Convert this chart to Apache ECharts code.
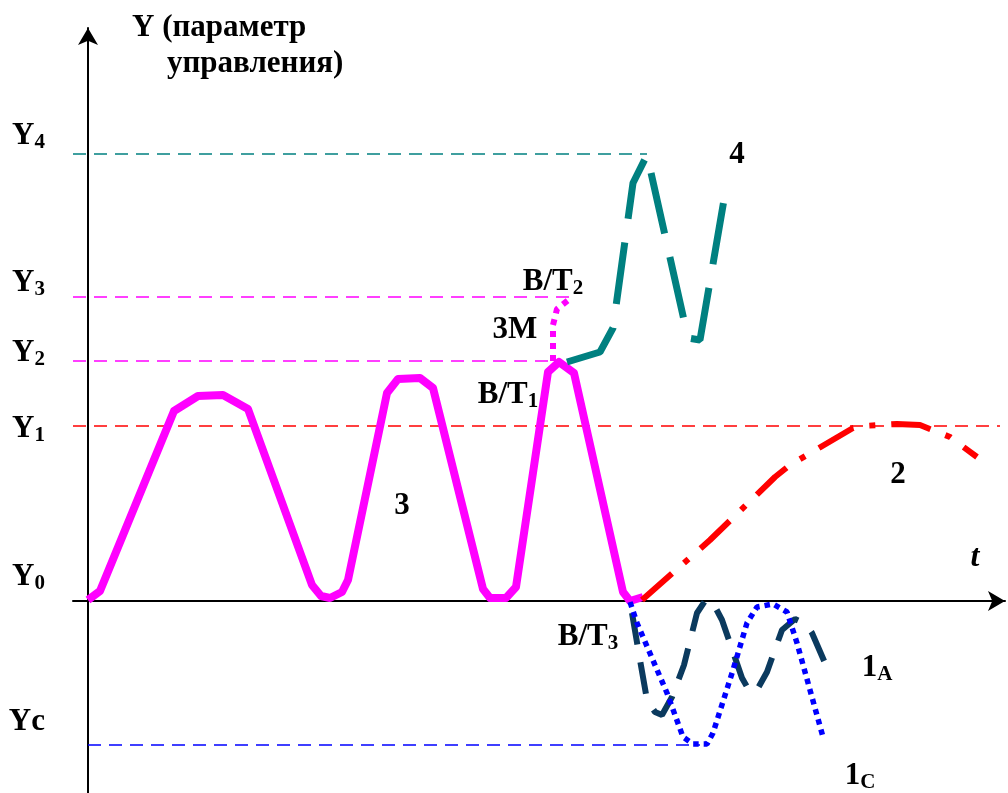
<!DOCTYPE html>
<html>
<head>
<meta charset="utf-8">
<script src="https://cdn.jsdelivr.net/npm/echarts@6/dist/echarts.min.js"></script>
<style>
  html, body { margin: 0; padding: 0; background: #fff; }
  #main { width: 1008px; height: 793px; }
</style>
</head>
<body>
<div id="main"></div>
<script>
// кривые (t, Y)
var curve3 = [[0,1],[12,10],[86,190],[110,205],[135,206],[160,192],[224,16],[233,5],[242,3],[254,9],[260,21],
  [299,208],[310,222],[332,223],[345,213],[395,12],[402,3],[418,3],[428,14],[460,229],[471,239],[486,228],
  [535,9],[542,0],[555,4]];
var curve3M = [[465,240],[465,276],[469,292],[484,304]];
var curve4 = [[479,239],[512,249],[525,273],[545,418],[559,446],[600,263],[612,261],[638,413]];
var curve2 = [[554,1],[622,61],[687,124],[702,136],[765,173],[775,175],[809,177],[832,176],[862,164],[889,144]];
var curve1A = [[544,-12],[552,-59],[559,-99],[567,-111],[574,-114],[584,-96],[596,-64],[609,-12],[617,0],[624,0],
  [634,-19],[654,-77],[662,-91],[669,-89],[679,-71],[694,-29],[707,-18],[718,-23],[724,-32],[740,-69]];
var curve1C = [[542,-1],[549,-22],[579,-92],[595,-136],[605,-143],[619,-143],[625,-132],[645,-69],[659,-22],
  [669,-6],[685,-3],[699,-11],[709,-42],[735,-136]];

// уровни Y
var levelNames = ['Yc', 'Y1', 'Y2', 'Y3', 'Y4'];
var levelValues = [-144, 175, 240, 304, 447];
var levelFrom = [0, -15, -15, -15, -15];
var levelTo = [612, 912, 467, 484, 559];

// подписи оси Y
var axisLabelTexts = ['Yc', 'Y0', 'Y1', 'Y2', 'Y3', 'Y4'];
var axisLabelAt = [-121, 24, 172, 248, 318, 465];

// подписи кривых
var noteTexts = ['4', 'B/T|2', '3M', 'B/T|1', '3', '2', 'B/T|3', '1|A', '1|C'];
var notePoints = [[649,446],[465,319],[427,271],[420,206],[314,95],[810,126],[500,-36],[789,-67],[772,-175]];

function DiagramChart() {
    var myChart = echarts.init(document.getElementById('main'));
    var serif = 'Liberation Serif';
    var rich = {
        m: { fontFamily: serif, fontWeight: 'bold', fontSize: 31, color: '#000', lineHeight: 34 },
        s: { fontFamily: serif, fontWeight: 'bold', fontSize: 21, color: '#000', verticalAlign: 'bottom', lineHeight: 12 }
    };
    function richText(t) {
        var p = t.split('|');
        return '{m|' + p[0] + '}' + (p[1] ? '{s|' + p[1] + '}' : '');
    }

    var levelColors = ['#0000ff', '#ff0000', '#ff00ff', '#ff00ff', '#008080'];
    var series = [];
    levelValues.forEach(function (v, i) {
        series.push({
            name: levelNames[i], type: 'line', symbol: 'none', silent: true,
            data: [[levelFrom[i], v], [levelTo[i], v]],
            lineStyle: { color: levelColors[i], width: 1.5, type: [13, 8] }
        });
    });
    series.push(
        { name: '3', type: 'line', symbol: 'none', data: curve3,
          lineStyle: { color: '#ff00ff', width: 8, join: 'round' } },
        { name: '3M', type: 'line', symbol: 'none', data: curve3M,
          lineStyle: { color: '#ff00ff', width: 6, type: [6, 6] } },
        { name: '4', type: 'line', symbol: 'none', data: curve4,
          lineStyle: { color: '#008080', width: 7, type: [62, 24] } },
        { name: '2', type: 'line', symbol: 'none', data: curve2,
          lineStyle: { color: '#ff0000', width: 6, type: [40, 16, 6, 16] } },
        { name: '1A', type: 'line', symbol: 'none', data: curve1A,
          lineStyle: { color: '#0b3a5e', width: 6, type: [32, 18] } },
        { name: '1C', type: 'line', symbol: 'none', data: curve1C,
          lineStyle: { color: '#0000ff', width: 5.5, type: [5.5, 5] } },
        { name: 'notes', type: 'scatter', symbolSize: 1, clip: false, silent: true,
          itemStyle: { color: 'rgba(0,0,0,0)', opacity: 1 },
          data: notePoints.map(function (p, i) { return { value: p, name: noteTexts[i] }; }),
          label: { show: true, position: 'inside', color: '#000', opacity: 1,
                   formatter: function (d) { return richText(d.name); }, rich: rich } },
        { name: 't', type: 'scatter', symbolSize: 1, clip: false, silent: true,
          itemStyle: { color: 'rgba(0,0,0,0)', opacity: 1 },
          data: [{ value: [887, 43], name: 't' }],
          label: { show: true, position: 'inside', formatter: 't', opacity: 1,
                   fontFamily: serif, fontWeight: 'bold', fontStyle: 'italic', fontSize: 32, color: '#000' } }
    );

    var option = {
        animation: false,
        backgroundColor: '#fff',
        title: [
            { text: 'Y (параметр', left: 127, top: 7,
              textStyle: { fontFamily: serif, fontWeight: 'bold', fontSize: 31, color: '#000' } },
            { text: 'управления)', left: 162, top: 43,
              textStyle: { fontFamily: serif, fontWeight: 'bold', fontSize: 31, color: '#000' } }
        ],
        grid: { left: 73, right: 3, top: 28, bottom: 0, containLabel: false, outerBoundsMode: 'none' },
        xAxis: {
            type: 'value', min: -15, max: 917,
            axisLine: { onZero: true, symbol: ['none', 'arrow'], symbolSize: [15, 17],
                        lineStyle: { color: '#000', width: 2 } },
            axisTick: { show: false }, axisLabel: { show: false }, splitLine: { show: false }
        },
        yAxis: {
            type: 'value', min: -192, max: 573,
            axisLine: { onZero: true, symbol: ['none', 'arrow'], symbolSize: [15, 17],
                        lineStyle: { color: '#000', width: 2 } },
            axisTick: { show: false },
            splitLine: { show: false },
            axisLabel: {
                show: true, margin: 28, customValues: axisLabelAt,
                formatter: function (v) {
                    var t = axisLabelTexts[axisLabelAt.indexOf(v)] || '';
                    return t === 'Yc' ? '{m|Yc}' : '{m|Y}{s|' + t.slice(1) + '}';
                },
                rich: rich
            }
        },
        series: series
    };
    myChart.setOption(option, true);
    return myChart;
}

window.onload = function () {
    var chart = DiagramChart();
    window.onresize = function () { chart.resize(); };
};
</script>
</body>
</html>
